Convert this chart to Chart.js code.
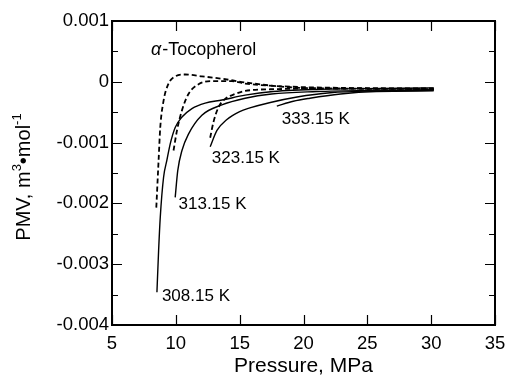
<!DOCTYPE html>
<html>
<head>
<meta charset="utf-8">
<script src="https://cdn.jsdelivr.net/npm/chart.js@4.4.0/dist/chart.umd.min.js"></script>
<style>
  html, body { margin: 0; padding: 0; background: #fff; }
</style>
</head>
<body>
<canvas id="myChart" width="507" height="376"></canvas>
<script>
// datos (Pressure MPa, PMV m3/mol)
const s308x = [8.52, 8.65, 8.78, 9.04, 9.30, 9.56, 9.95, 10.48, 11.26, 12.30, 13.61, 15.43, 17.62, 22, 26, 30.2];
const s308y = [-0.00346, -0.00278, -0.00223, -0.00157, -0.00129, -0.00102, -0.00075, -0.00058, -0.00044, -0.00035, -0.0003, -0.00022, -0.00016, -0.00012, -0.00011, -0.0001];
const s313x = [9.95, 10.15, 10.48, 10.99, 12.04, 13.6, 15.43, 17.5, 21, 25, 30.2];
const s313y = [-0.0019, -0.00146, -0.00113, -0.00086, -0.00055, -0.00038, -0.00027, -0.0002, -0.00016, -0.00014, -0.00013];
const s323x = [12.69, 13.22, 14.0, 15.0, 15.8, 17.4, 19.5, 22.1, 26, 30.2];
const s323y = [-0.00107, -0.0008, -0.00062, -0.00049, -0.00043, -0.00034, -0.00025, -0.00018, -0.00015, -0.00014];
const s333x = [17.91, 19.2, 20.5, 22.9, 25.7, 30.2];
const s333y = [-0.0004, -0.00032, -0.00027, -0.0002, -0.00016, -0.00015];
const d308x = [8.47, 8.65, 8.78, 9.04, 9.43, 9.95, 10.74, 12.04, 13.61, 15.43, 18.95, 22.86, 30.2];
const d308y = [-0.00207, -0.00129, -0.00075, -0.00031, -0.00003, 0.00009, 0.00012, 0.00009, 0.00005, -0.00001, -0.00009, -0.00011, -0.00012];
const d313x = [9.82, 10.09, 10.48, 10.99, 11.78, 12.82, 14.39, 15.43, 19, 23, 30.2];
const d313y = [-0.00113, -0.0008, -0.00047, -0.0002, -0.00004, 0.00001, 0.00001, -0.00003, -0.00008, -0.0001, -0.00012];
const d323x = [12.69, 12.95, 13.34, 13.87, 14.65, 15.43, 18, 22, 30.2];
const d323y = [-0.00092, -0.00066, -0.00042, -0.00028, -0.0002, -0.00015, -0.00012, -0.00011, -0.00011];

const xTicks = [5, 10, 15, 20, 25, 30, 35];
const yTicks = [0.001, 0, -0.001, -0.002, -0.003, -0.004];

const tempLabels = ['308.15 K', '313.15 K', '323.15 K', '333.15 K'];
const tempLabelX = [8.91, 10.21, 12.82, 18.3];
const tempLabelY = [-0.00352, -0.00202, -0.00126, -0.00062];

const FONT = 'Arial, "Liberation Sans", Helvetica, sans-serif';

function pts(xs, ys) {
    return xs.map((x, i) => ({ x: x, y: ys[i] }));
}

function serie(xs, ys, dashed) {
    return {
        data: pts(xs, ys),
        showLine: true,
        borderColor: '#000',
        borderWidth: dashed ? 1.8 : 1.4,
        borderDash: dashed ? [5, 3] : [],
        pointRadius: 0,
        cubicInterpolationMode: 'monotone',
        fill: false
    };
}

// marco, marcas hacia dentro y textos
const decorPlugin = {
    id: 'decor',
    afterDatasetsDraw(chart) {
        const ctx = chart.ctx;
        const a = chart.chartArea;
        const sx = chart.scales.x;
        const sy = chart.scales.y;
        ctx.save();
        ctx.strokeStyle = '#000';
        ctx.lineWidth = 1.2;
        ctx.beginPath();
        xTicks.forEach(v => {
            const px = Math.round(sx.getPixelForValue(v)) + 0.5;
            ctx.moveTo(px, a.bottom); ctx.lineTo(px, a.bottom - 10);
            ctx.moveTo(px, a.top); ctx.lineTo(px, a.top + 10);
        });
        yTicks.forEach((v, i) => {
            let py = Math.round(sy.getPixelForValue(v)) + 0.5;
            ctx.moveTo(a.left, py); ctx.lineTo(a.left + 10, py);
            ctx.moveTo(a.right, py); ctx.lineTo(a.right - 10, py);
            if (i < yTicks.length - 1) {
                py = Math.round(sy.getPixelForValue((v + yTicks[i + 1]) / 2)) + 0.5;
                ctx.moveTo(a.left, py); ctx.lineTo(a.left + 6, py);
                ctx.moveTo(a.right, py); ctx.lineTo(a.right - 6, py);
            }
        });
        ctx.stroke();
        ctx.lineWidth = 2;
        ctx.strokeRect(a.left, a.top, a.right - a.left, a.bottom - a.top);

        ctx.fillStyle = '#000';
        ctx.textBaseline = 'middle';
        ctx.textAlign = 'left';
        ctx.font = '17px ' + FONT;
        tempLabels.forEach((t, i) => {
            ctx.fillText(t, sx.getPixelForValue(tempLabelX[i]), sy.getPixelForValue(tempLabelY[i]));
        });

        // alfa-Tocoferol
        let tx = sx.getPixelForValue(8.05);
        const ty = sy.getPixelForValue(0.00053);
        ctx.font = 'italic 18px ' + FONT;
        ctx.fillText('α', tx, ty);
        tx += ctx.measureText('α').width + 1;
        ctx.font = '18px ' + FONT;
        ctx.fillText('-Tocopherol', tx, ty);

        // titulo eje y con superindices
        ctx.translate(24, 177);
        ctx.rotate(-Math.PI / 2);
        const parts = [
            { t: 'PMV, m', sup: false },
            { t: '3', sup: true },
            { t: '•mol', sup: false },
            { t: '-1', sup: true }
        ];
        let total = 0;
        parts.forEach(p => {
            ctx.font = (p.sup ? '13px ' : '20px ') + FONT;
            total += ctx.measureText(p.t).width;
        });
        let cx = -total / 2;
        parts.forEach(p => {
            ctx.font = (p.sup ? '13px ' : '20px ') + FONT;
            ctx.fillText(p.t, cx, p.sup ? -7 : 0);
            cx += ctx.measureText(p.t).width;
        });
        ctx.restore();
    }
};

const ctx = document.getElementById('myChart').getContext('2d');
const myChart = new Chart(ctx, {
    type: 'scatter',
    data: {
        datasets: [
            serie(s308x, s308y, false),
            serie(s313x, s313y, false),
            serie(s323x, s323y, false),
            serie(s333x, s333y, false),
            serie(d308x, d308y, true),
            serie(d313x, d313y, true),
            serie(d323x, d323y, true)
        ]
    },
    options: {
        responsive: false,
        animation: false,
        layout: { padding: { top: 21, right: 12, left: 0, bottom: 0 } },
        plugins: { legend: { display: false }, tooltip: { enabled: false } },
        scales: {
            x: {
                type: 'linear',
                min: 5,
                max: 35,
                afterBuildTicks: s => { s.ticks = xTicks.map(v => ({ value: v })); },
                afterFit: s => { s.height = 51; s.paddingLeft = 0; s.paddingRight = 0; },
                grid: { display: false, drawTicks: false },
                border: { display: false },
                ticks: {
                    color: '#000',
                    padding: 8,
                    maxRotation: 0,
                    font: { family: FONT, size: 18.5 }
                },
                title: {
                    display: true,
                    text: 'Pressure, MPa',
                    color: '#000',
                    padding: { top: 0, bottom: -3 },
                    font: { family: FONT, size: 21 }
                }
            },
            y: {
                type: 'linear',
                min: -0.004,
                max: 0.001,
                afterBuildTicks: s => { s.ticks = yTicks.map(v => ({ value: v })); },
                afterFit: s => { s.width = 112; s.paddingTop = 0; s.paddingBottom = 0; },
                grid: { display: false, drawTicks: false },
                border: { display: false },
                ticks: {
                    color: '#000',
                    padding: 3,
                    font: { family: FONT, size: 18.5 },
                    callback: v => (v === 0 ? '0' : v.toFixed(3))
                }
            }
        }
    },
    plugins: [decorPlugin]
});
</script>
</body>
</html>
